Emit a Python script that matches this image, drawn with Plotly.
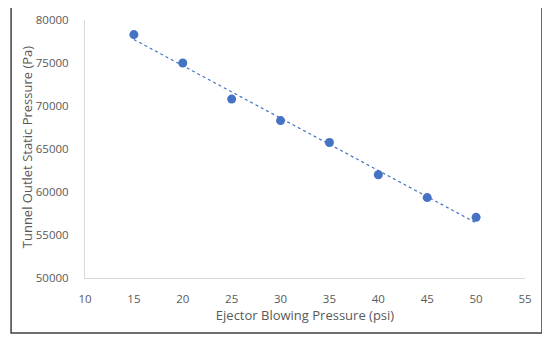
import numpy as np
import plotly.graph_objects as go

pressure_psi = [15, 20, 25, 30, 35, 40, 45, 50]
outlet_pa = [78300, 75000, 70800, 68300, 65750, 62000, 59350, 57050]
x_ticks = [10, 15, 20, 25, 30, 35, 40, 45, 50, 55]
y_ticks = [50000, 55000, 60000, 65000, 70000, 75000, 80000]

coef = np.polyfit(pressure_psi, outlet_pa, 1)
trend_x = [pressure_psi[0], pressure_psi[-1]]
trend_y = list(np.polyval(coef, trend_x))

blue = "#4472C4"
fig = go.Figure()
fig.add_trace(go.Scatter(x=trend_x, y=trend_y, mode="lines",
                         line=dict(color=blue, width=1.2, dash="dot"),
                         hoverinfo="skip", showlegend=False))
fig.add_trace(go.Scatter(x=pressure_psi, y=outlet_pa, mode="markers",
                         marker=dict(color=blue, size=9),
                         showlegend=False))

# page body has an 8px margin, so the figure is drawn at (8, 8)
font = dict(family="Open Sans, sans-serif", size=13, color="#595959")
fig.update_layout(
    width=542, height=333,
    margin=dict(l=77, r=25, t=12, b=63),
    paper_bgcolor="white", plot_bgcolor="white",
    font=font,
    xaxis=dict(range=[10, 55], tickvals=x_ticks, tickformat="d",
               showgrid=False, zeroline=False, showline=True,
               linecolor="#D9D9D9", linewidth=1, ticks="",
               ticklabelstandoff=10, automargin=False,
               title=dict(text="Ejector Blowing Pressure (psi)", standoff=3,
                          font=dict(size=13)),
               tickfont=dict(size=11.5)),
    yaxis=dict(range=[50000, 80000], tickvals=y_ticks, tickformat="d",
               showgrid=False, zeroline=False, showline=True,
               linecolor="#D9D9D9", linewidth=1, ticks="",
               ticklabelstandoff=13, automargin=False,
               tickfont=dict(size=11.5)),
    annotations=[dict(text="Tunnel Outlet Static Pressure (Pa)",
                      xref="paper", yref="paper", x=-0.13, y=0.51,
                      xanchor="center", yanchor="middle", textangle=-90,
                      showarrow=False, font=dict(size=13))],
    shapes=[dict(type="rect", xref="paper", yref="paper",
                 x0=-0.168, x1=1.0386, y0=-0.2132, y1=1.0504,
                 line=dict(color="#404040", width=1.5), layer="below")],
)
fig.write_html("out.html")
